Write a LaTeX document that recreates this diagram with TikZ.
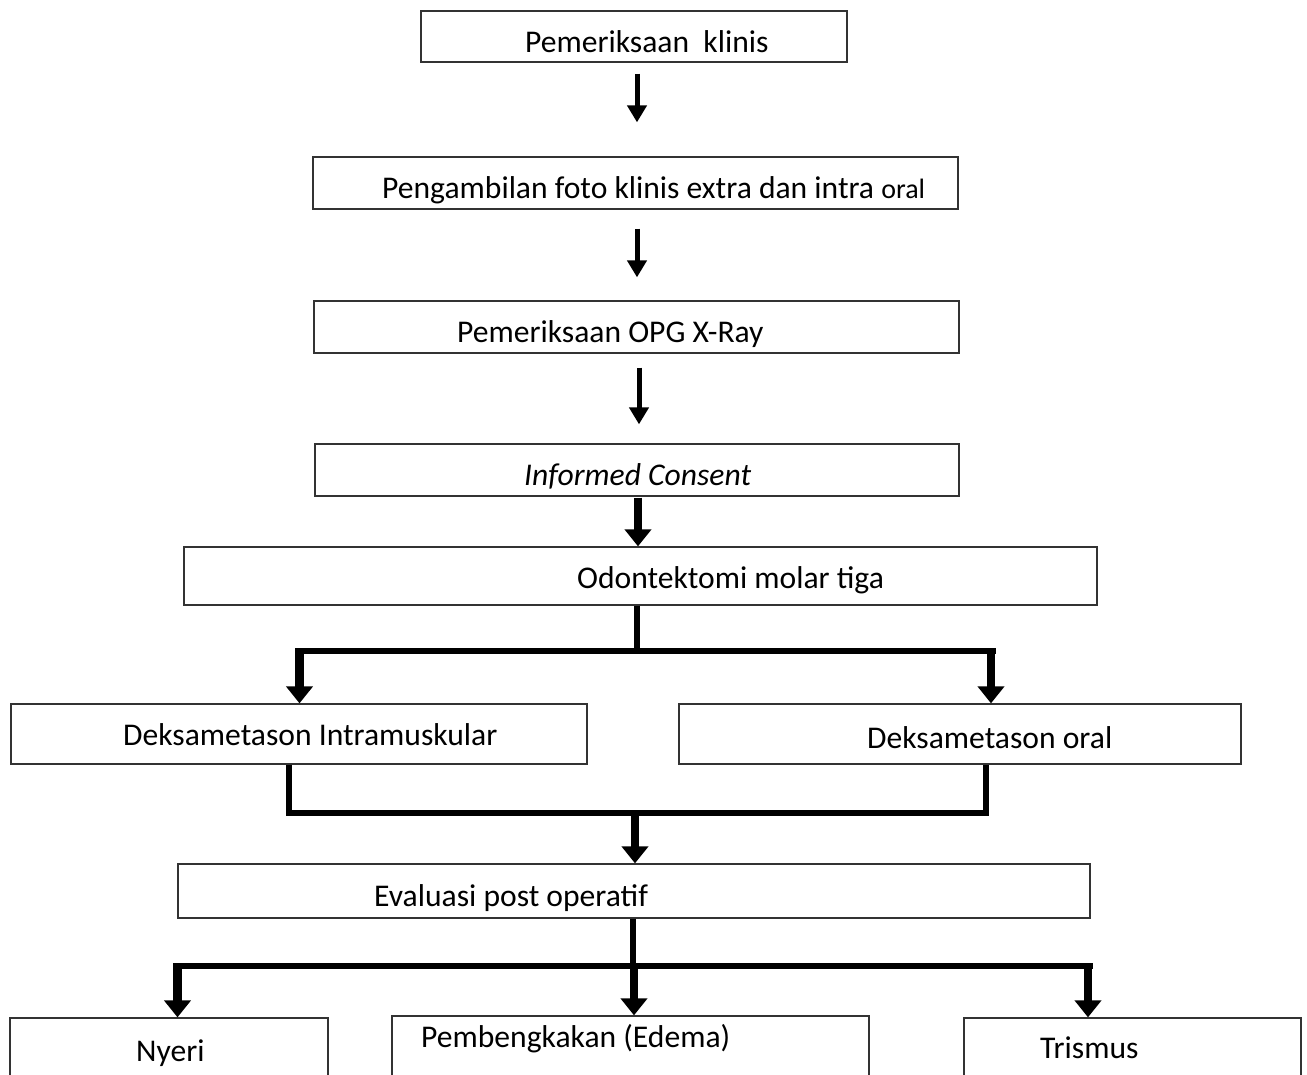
\documentclass[tikz,border=0pt]{standalone}
\usepackage{fontspec}
\setmainfont{Carlito}
\usetikzlibrary{arrows.meta}
\begin{document}
\begin{tikzpicture}[x=1pt,y=-1pt,
  box/.style={draw=black!80,line width=1.3pt,inner sep=0pt},
  lbl/.style={anchor=base west,inner sep=0pt,font=\fontsize{31.6}{38}\selectfont},
  conline/.style={line width=6pt,line join=miter},
  bigarr/.style={line width=8.5pt,-{Triangle[width=26pt,length=17pt]}},
  smallarr/.style={line width=5pt,-{Triangle[width=19pt,length=17pt]}}]
\useasboundingbox (0,0) rectangle (1307,1074);
\clip (0,0) rectangle (1307,1074);
\fill[white] (0,0) rectangle (1307,1074);

% boxes
\node[box,minimum width=426pt,minimum height=51pt] (b1) at (634,36.5) {};
\node[box,minimum width=645pt,minimum height=52pt] (b2) at (635.5,183) {};
\node[box,minimum width=645pt,minimum height=52pt] (b3) at (636.5,327) {};
\node[box,minimum width=644pt,minimum height=52pt] (b4) at (637,470) {};
\node[box,minimum width=913pt,minimum height=58pt] (b5) at (640.5,576) {};
\node[box,minimum width=576pt,minimum height=60pt] (b6) at (299,734) {};
\node[box,minimum width=562pt,minimum height=60pt] (b7) at (960,734) {};
\node[box,minimum width=912pt,minimum height=54pt] (b8) at (634,891) {};
\node[box,minimum width=318pt,minimum height=92pt] (b9) at (169,1064) {};
\node[box,minimum width=477pt,minimum height=94pt] (b10) at (630.5,1063) {};
\node[box,minimum width=337pt,minimum height=92pt] (b11) at (1132.5,1064) {};

% labels
\node[lbl] (t1) at (525,52) {Pemeriksaan\ \ klinis};
\node[lbl] (t2) at (382,198) {Pengambilan foto klinis extra dan intra {\fontsize{28}{34}\selectfont oral}};
\node[lbl] (t3) at (457,342) {Pemeriksaan OPG X-Ray};
\node[lbl] (t4) at (524,485) {\itshape Informed Consent};
\node[lbl] (t5) at (577,588) {Odontektomi molar tiga};
\node[lbl] (t6) at (123,745) {Deksametason Intramuskular};
\node[lbl] (t7) at (867,748) {Deksametason oral};
\node[lbl] (t8) at (374,906) {Evaluasi post operatif};
\node[lbl] (t9) at (136,1061) {Nyeri};
\node[lbl] (t10) at (421,1047) {Pembengkakan (Edema)};
\node[lbl] (t11) at (1040,1058) {Trismus};

% top arrows
\draw[smallarr] ([xshift=3pt,yshift=-11pt]b1.south) -- ([xshift=1.5pt,yshift=34pt]b2.north);
\draw[smallarr] ([xshift=1.5pt,yshift=-19pt]b2.south) -- ([xshift=0.5pt,yshift=23pt]b3.north);
\draw[smallarr] ([xshift=2.5pt,yshift=-14pt]b3.south) -- ([xshift=2pt,yshift=19pt]b4.north);
\draw[bigarr] ([xshift=1pt,yshift=-1pt]b4.south) -- ([xshift=-2.5pt]b5.north);

% branch to two treatments
\coordinate (j1) at (637,651);
\coordinate (l1) at (295,651);
\coordinate (r1) at (996,651);
\coordinate (la) at (299.5,648);
\coordinate (ra) at (991,648);
\draw[conline] (b5.south -| j1) -- (j1);
\draw[conline] (l1) -- (r1);
\draw[bigarr] (la) -- (la |- b6.north);
\draw[bigarr] (ra) -- (ra |- b7.north);

% merge to evaluation
\coordinate (m1) at (289,813);
\coordinate (m2) at (986,813);
\coordinate (m3) at (635,810);
\draw[conline] (b6.south -| m1) -- (m1) -- (m2) -- (b7.south -| m2);
\draw[bigarr] (m3) -- (m3 |- b8.north);

% branch to three outcomes
\coordinate (j2) at (633,966);
\coordinate (l2) at (173,966);
\coordinate (r2) at (1093,966);
\coordinate (a1) at (177.5,963);
\coordinate (a2) at (634,963);
\coordinate (a3) at (1088,963);
\draw[conline] (b8.south -| j2) -- (j2);
\draw[conline] (l2) -- (r2);
\draw[bigarr] (a1) -- (a1 |- b9.north);
\draw[bigarr] (a2) -- (a2 |- b10.north);
\draw[bigarr] (a3) -- (a3 |- b11.north);
\end{tikzpicture}
\end{document}
